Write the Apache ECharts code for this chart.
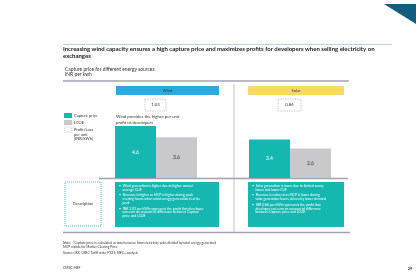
<!DOCTYPE html>
<html>
<head>
<meta charset="utf-8">
<script src="https://cdn.jsdelivr.net/npm/echarts@6/dist/echarts.min.js"></script>
<style>
  html, body { margin: 0; padding: 0; background: #fff; }
  #main { width: 416px; height: 275px; }
</style>
</head>
<body>
<div id="main"></div>
<script>
// datos del grafico
var sources = ['Wind', 'Solar'];
var capturePrice = [4.6, 3.4];
var lcoe = [3.6, 2.6];
var profitPerUnit = ['1.03', '0.86'];

var windNotes = [
  '\u2022  Wind generation is higher due to higher annual\n    average CUF',
  '\u2022  Revenue is higher as MCP is higher during peak\n    evening hours when wind energy generation is at its\n    peak',
  '\u2022  INR 1.03 per kWh represents the profit that developer\n    can earn on account of difference between Capture\n    price and LCOE'
];
var solarNotes = [
  '\u2022  Solar generation is lower due to limited sunny\n    hours and lower CUF',
  '\u2022  Revenue is reduced as MCP is lower during\n    solar generation hours, driven by lower demand',
  '\u2022  INR 0.86 per kWh represents the profit that\n    developer can earn on account of difference\n    between Capture price and LCOE'
];

var TEAL = '#14b8b0';
var GREY = '#c9c9cb';
var FONT = 'Lato';

function txt(x, y, text, size, opts) {
  opts = opts || {};
  return {
    type: 'text', x: x, y: y, silent: true,
    style: {
      text: text,
      fontSize: size,
      fontFamily: FONT,
      fontWeight: opts.bold ? 'bold' : 'normal',
      fill: opts.color || '#333',
      align: opts.align || 'left',
      verticalAlign: opts.valign || 'middle',
      lineHeight: opts.lh || size * 1.2
    }
  };
}

function hline(x1, x2, y, color, w) {
  return { type: 'line', silent: true, shape: { x1: x1, y1: y, x2: x2, y2: y }, style: { stroke: color, lineWidth: w } };
}

function notesText(x, y, notes) {
  var items = [];
  var yy = y;
  notes.forEach(function (n) {
    items.push(txt(x, yy, n, 3.4, { color: '#fff', valign: 'top', lh: 3.9 }));
    yy += n.split('\n').length * 3.9 + 1.5;
  });
  return items;
}

function buildGraphics() {
  var g = [];
  // triangulo de esquina
  g.push({ type: 'polygon', silent: true, shape: { points: [[384, 4], [416, 4], [416, 24]] }, style: { fill: '#135e7e' } });

  // titulo
  g.push(hline(63, 392, 44.5, '#a9cbd3', 0.8));
  g.push(txt(63, 49.5, 'Increasing wind capacity ensures a high capture price and maximizes profits for developers when selling electricity on', 6, { bold: true, color: '#1a1a1a' }));
  g.push(txt(63, 56, 'exchanges', 6, { bold: true, color: '#1a1a1a' }));
  g.push(txt(65, 69, 'Capture price for different energy sources', 4.9, { color: '#333' }));
  g.push(txt(65, 74.5, 'INR per kwh', 4.9, { color: '#333' }));
  g.push(hline(63, 349, 81, '#a3a3b5', 1.3));

  // cabeceras
  g.push({ type: 'rect', silent: true, shape: { x: 116, y: 86, width: 103, height: 9 }, style: { fill: '#29abe2' } });
  g.push(txt(167.5, 90.5, sources[0], 4, { align: 'center', color: '#333' }));
  g.push({ type: 'rect', silent: true, shape: { x: 248, y: 86, width: 96, height: 9 }, style: { fill: '#ffd966' } });
  g.push(txt(296, 90.5, sources[1], 4, { align: 'center', color: '#333' }));

  // divisor vertical
  g.push({ type: 'line', silent: true, shape: { x1: 234, y1: 84, x2: 234, y2: 232 }, style: { stroke: '#b4b4b8', lineWidth: 0.8 } });

  // cajas de ganancia por unidad
  g.push({ type: 'rect', silent: true, shape: { x: 145, y: 99, width: 21, height: 12 }, style: { fill: '#fff', stroke: '#aaa', lineWidth: 0.7, lineDash: [1.2, 1.2] } });
  g.push(txt(155.5, 105, profitPerUnit[0], 4.3, { align: 'center', color: '#333' }));
  g.push({ type: 'rect', silent: true, shape: { x: 278, y: 99, width: 23, height: 12 }, style: { fill: '#fff', stroke: '#aaa', lineWidth: 0.7, lineDash: [1.2, 1.2] } });
  g.push(txt(289.5, 105, profitPerUnit[1], 4.3, { align: 'center', color: '#333' }));

  g.push(txt(116, 117, 'Wind provides the higher per unit', 4.3, { color: '#333' }));
  g.push(txt(116, 122.5, 'profit to developers', 4.3, { color: '#333' }));

  // leyenda
  g.push({ type: 'rect', silent: true, shape: { x: 64, y: 113, width: 8, height: 5 }, style: { fill: TEAL } });
  g.push(txt(74, 115.5, 'Capture price', 4));
  g.push({ type: 'rect', silent: true, shape: { x: 64, y: 120, width: 8, height: 5 }, style: { fill: GREY } });
  g.push(txt(74, 122.5, 'LCOE', 4));
  g.push({ type: 'rect', silent: true, shape: { x: 64.5, y: 127, width: 7, height: 5 }, style: { fill: '#fff', stroke: '#aaa', lineWidth: 0.6, lineDash: [1, 1] } });
  g.push(txt(74, 128, 'Profit/Loss\nper unit\n(INR/kWh)', 4, { valign: 'top', lh: 4.4 }));

  // linea base
  g.push(hline(99, 348, 178.5, '#a3a3b5', 1.3));

  // descripcion
  g.push({ type: 'rect', silent: true, shape: { x: 65, y: 182, width: 36, height: 44 }, style: { fill: '#fff', stroke: TEAL, lineWidth: 0.8, lineDash: [1, 1] } });
  g.push(txt(83, 204, 'Description', 4, { align: 'center', color: '#333' }));
  g.push({ type: 'rect', silent: true, shape: { x: 115, y: 182, width: 104, height: 45 }, style: { fill: TEAL } });
  notesText(119, 184, windNotes).forEach(function (e) { g.push(e); });
  g.push({ type: 'rect', silent: true, shape: { x: 248, y: 182, width: 96, height: 45 }, style: { fill: TEAL } });
  notesText(252, 184, solarNotes).forEach(function (e) { g.push(e); });

  g.push(hline(63, 350, 232.5, '#a3a3b5', 1.3));

  // notas
  g.push(txt(63, 241.5, 'Note:  *Capture price is calculated as total revenue from electricity sales divided by total energy generated\nMCP stands for Market Clearing Price', 3.3, { valign: 'top', lh: 3.8 }));
  g.push(txt(63, 250.5, 'Source: IEX; CERC Tariff order FY23; MEC+ analysis', 3.3, { valign: 'top' }));
  g.push(txt(63, 268, 'CMSC MEF', 3.4));
  g.push(txt(410, 268.5, '29', 3.8, { bold: true, align: 'center' }));
  return g;
}

function main() {
  document.addEventListener('DOMContentLoaded', function () {
    var myChart = echarts.init(document.getElementById('main'), null, { renderer: 'canvas' });
    var option = {
      backgroundColor: '#ffffff',
      animation: false,
      grid: { left: 89, right: 59, top: 121.5, height: 56.5 },
      xAxis: {
        type: 'category',
        data: sources,
        axisLine: { show: false },
        axisTick: { show: false },
        axisLabel: { show: false }
      },
      yAxis: {
        type: 'value', min: 0, max: 5,
        show: false,
        splitLine: { show: false }
      },
      series: [
        {
          name: 'Capture price',
          type: 'bar',
          data: capturePrice,
          barWidth: 41,
          barGap: '0%',
          itemStyle: { color: TEAL },
          label: { show: true, position: 'inside', color: '#fff', fontSize: 5, fontFamily: FONT }
        },
        {
          name: 'LCOE',
          type: 'bar',
          data: lcoe,
          barWidth: 41,
          barGap: '0%',
          itemStyle: { color: GREY },
          label: { show: true, position: 'inside', color: '#333', fontSize: 5, fontFamily: FONT }
        }
      ],
      graphic: buildGraphics()
    };
    option && myChart.setOption(option);
  });
}

main();
</script>
</body>
</html>
